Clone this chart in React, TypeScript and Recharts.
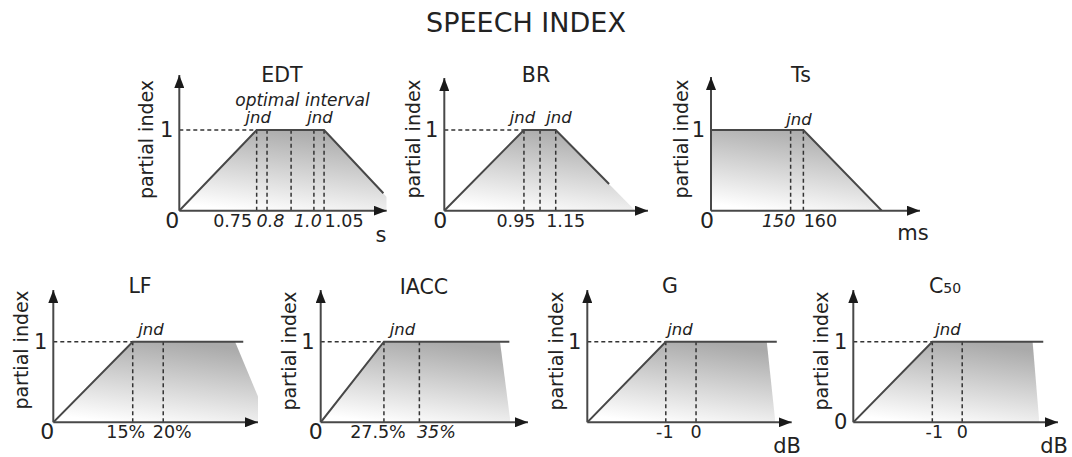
import React from 'react';
import { ComposedChart, Area, Line, XAxis, YAxis, ReferenceLine } from 'recharts';

const W = 1072;
const H = 457;
const FONT = '"DejaVu Sans", Verdana, sans-serif';
const INK = '#222222';
const AXIS = '#484848';
const YAX_W = 40;
const XAX_H = 20;

// ---------- data (x in schematic units: % of the drawn axis length) ----------
const EDT_X = [0, 37.3, 69.8, 98.4, 100];
const EDT_SHADE = [0, 1, 1, null, 0.17];
const EDT_EDGE = [0, 1, 1, 0.216, null];
const EDT_MARKS = [37.3, 42.3, 53.9, 64.9, 69.8];
const EDT_TICKS = [0, 37.3, 42.3, 53.9, 64.9, 69.8];
const EDT_TICK_LABELS = ['0', '0.75', '0.8', '', '1.0', '1.05'];

const BR_X = [0, 39.1, 54.7, 80.9, 93.8];
const BR_SHADE = [0, 1, 1, null, 0];
const BR_EDGE = [0, 1, 1, 0.33, null];
const BR_MARKS = [39.1, 47.0, 54.7];
const BR_TICKS = [0, 39.1, 47.0, 54.7];
const BR_TICK_LABELS = ['0', '0.95', '', '1.15'];

const TS_X = [0, 44.2, 81.7];
const TS_SHADE = [1, 1, 0];
const TS_EDGE = [1, 1, 0];
const TS_MARKS = [38.1, 44.2];
const TS_TICKS = [0, 38.1, 44.2];
const TS_TICK_LABELS = ['0', '150', '160'];

const LF_X = [0, 38.8, 88.8, 92.8, 100];
const LF_SHADE = [0, 1, 1, null, 0.32];
const LF_EDGE = [0, 1, null, 1, null];
const LF_MARKS = [38.8, 53.7];
const LF_TICKS = [0, 38.8, 53.7];
const LF_TICK_LABELS = ['0', '15%', '20%'];

const IACC_X = [0, 30.5, 86.5, 91.0, 91.3];
const IACC_SHADE = [0, 1, 1, null, 0.05];
const IACC_EDGE = [0, 1, null, 1, null];
const IACC_MARKS = [30.5, 47.6];
const IACC_TICKS = [0, 30.5, 47.6];
const IACC_TICK_LABELS = ['0', '27.5%', '35%'];

const G_X = [0, 38.4, 87.8, 91.8, 92.7];
const G_SHADE = [0, 1, 1, 0.05, null];
const G_EDGE = [0, 1, null, null, 1];
const G_MARKS = [38.4, 53.2];
const G_TICKS = [38.4, 53.2];
const G_TICK_LABELS = ['-1', '0'];

const C50_X = [0, 38.6, 87.6, 90.7, 92.8];
const C50_SHADE = [0, 1, 1, 0.05, null];
const C50_EDGE = [0, 1, null, null, 1];
const C50_MARKS = [38.6, 53.2];
const C50_TICKS = [38.6, 53.2];
const C50_TICK_LABELS = ['-1', '0'];

// ---------- layout / style (page pixels) ----------
type Txt = { x: number; y: number };
type Layout = {
  axisX: number; axisY: number; tipX: number; tipY: number; oneY: number;
  title: string; sub?: string; titlePos: Txt; ylab: Txt; jnd: Txt[];
  unit?: { text: string; x: number; y: number };
  extra?: { text: string; x: number; y: number };
  tickDx: number[]; tickItalic?: boolean[]; yTicks: number[];
};

const TOP = { axisY: 210.7, oneY: 130 };
const BOT = { axisY: 422.3, oneY: 341.7, tipY: 290 };

const panels: { x: number[]; shade: (number | null)[]; edge: (number | null)[]; marks: number[]; ticks: number[]; labels: string[]; hline: boolean; L: Layout }[] = [
  {
    x: EDT_X, shade: EDT_SHADE, edge: EDT_EDGE, marks: EDT_MARKS, ticks: EDT_TICKS, labels: EDT_TICK_LABELS, hline: true,
    L: {
      ...TOP, axisX: 179.3, tipX: 386.7, tipY: 75,
      title: 'EDT', titlePos: { x: 282, y: 81.7 }, ylab: { x: 145.5, y: 139.5 },
      jnd: [{ x: 258.3, y: 123.3 }, { x: 320, y: 123.3 }],
      unit: { text: 's', x: 381, y: 242 },
      extra: { text: 'optimal interval', x: 302.5, y: 105.5 },
      tickDx: [-7, -24, 3.5, 0, -6, 20], tickItalic: [false, false, true, false, true, false], yTicks: [1],
    },
  },
  {
    x: BR_X, shade: BR_SHADE, edge: BR_EDGE, marks: BR_MARKS, ticks: BR_TICKS, labels: BR_TICK_LABELS, hline: true,
    L: {
      ...TOP, axisX: 444.3, tipX: 648, tipY: 78,
      title: 'BR', titlePos: { x: 536, y: 81.7 }, ylab: { x: 412.5, y: 139 },
      jnd: [{ x: 522.5, y: 123.3 }, { x: 559, y: 123.3 }],
      tickDx: [-4, -8, 0, 10], yTicks: [1],
    },
  },
  {
    x: TS_X, shade: TS_SHADE, edge: TS_EDGE, marks: TS_MARKS, ticks: TS_TICKS, labels: TS_TICK_LABELS, hline: false,
    L: {
      ...TOP, axisX: 711, tipX: 920, tipY: 77,
      title: 'Ts', titlePos: { x: 801, y: 81.7 }, ylab: { x: 681, y: 139 },
      jnd: [{ x: 799, y: 125 }],
      unit: { text: 'ms', x: 913, y: 240 },
      tickDx: [-4, -12, 17], tickItalic: [false, true, false], yTicks: [1],
    },
  },
  {
    x: LF_X, shade: LF_SHADE, edge: LF_EDGE, marks: LF_MARKS, ticks: LF_TICKS, labels: LF_TICK_LABELS, hline: true,
    L: {
      ...BOT, axisX: 53.3, tipX: 258,
      title: 'LF', titlePos: { x: 140, y: 293 }, ylab: { x: 21, y: 350 },
      jnd: [{ x: 151, y: 335 }],
      tickDx: [-6, -7, 9], yTicks: [1],
    },
  },
  {
    x: IACC_X, shade: IACC_SHADE, edge: IACC_EDGE, marks: IACC_MARKS, ticks: IACC_TICKS, labels: IACC_TICK_LABELS, hline: true,
    L: {
      ...BOT, axisX: 320.7, tipX: 528,
      title: 'IACC', titlePos: { x: 424, y: 294 }, ylab: { x: 289, y: 351 },
      jnd: [{ x: 402.5, y: 335 }],
      tickDx: [-5, -6, 17], tickItalic: [false, false, true], yTicks: [1],
    },
  },
  {
    x: G_X, shade: G_SHADE, edge: G_EDGE, marks: G_MARKS, ticks: G_TICKS, labels: G_TICK_LABELS, hline: true,
    L: {
      ...BOT, axisX: 587.3, tipX: 791.7,
      title: 'G', titlePos: { x: 670, y: 293 }, ylab: { x: 556, y: 351 },
      jnd: [{ x: 680, y: 335 }],
      unit: { text: 'dB', x: 787, y: 453 },
      tickDx: [-1, 0], yTicks: [1],
    },
  },
  {
    x: C50_X, shade: C50_SHADE, edge: C50_EDGE, marks: C50_MARKS, ticks: C50_TICKS, labels: C50_TICK_LABELS, hline: true,
    L: {
      ...BOT, axisX: 853.3, tipX: 1058,
      title: 'C', sub: '50', titlePos: { x: 945, y: 293 }, ylab: { x: 821, y: 351 },
      jnd: [{ x: 948, y: 335 }],
      unit: { text: 'dB', x: 1054, y: 453 },
      tickDx: [2, 0], yTicks: [0, 1],
    },
  },
];

function Panel({ p, idx }: { p: typeof panels[number]; idx: number }) {
  const L = p.L;
  const data = p.x.map((x, i) => ({
    x,
    shade: p.shade[i] === null ? undefined : p.shade[i],
    edge: p.edge[i] === null ? undefined : p.edge[i],
  }));
  const yMax = (L.axisY - L.tipY) / (L.axisY - L.oneY);
  const margin = {
    top: L.tipY,
    left: L.axisX - YAX_W,
    right: W - L.tipX,
    bottom: H - L.axisY - XAX_H,
  };
  const rise = p.marks[0];

  const xTick = (props: any) => {
    const v = props.payload.value;
    const i = p.ticks.indexOf(v);
    const label = p.labels[i];
    if (!label) return <g />;
    const big = v === 0 && label === '0';
    return (
      <text
        x={props.x + (L.tickDx[i] || 0)}
        y={L.axisY + (big ? 17 : 16)}
        textAnchor="middle"
        fontFamily={FONT}
        fontSize={big ? 22 : 17.5}
        fontStyle={L.tickItalic && L.tickItalic[i] ? 'italic' : 'normal'}
        fill={INK}
      >
        {label}
      </text>
    );
  };

  const yTick = (props: any) => (
    <text
      x={L.axisX - 6}
      y={props.y}
      textAnchor="end"
      dominantBaseline="central"
      fontFamily={FONT}
      fontSize={21}
      fill={INK}
    >
      {props.payload.value}
    </text>
  );

  return (
    <div style={{ position: 'absolute', left: 0, top: 0 }}>
      <ComposedChart width={W} height={H} data={data} margin={margin}>
        <defs>
          <linearGradient id={`shade${idx}`} x1="0.3" y1="1" x2="0.6" y2="0">
            <stop offset="0%" stopColor="#ffffff" />
            <stop offset="100%" stopColor="#aaaaaa" />
          </linearGradient>
          <marker
            id={`arrow${idx}`}
            viewBox="0 0 13 10"
            refX="13"
            refY="5"
            markerWidth="13"
            markerHeight="10"
            markerUnits="userSpaceOnUse"
            orient="auto-start-reverse"
          >
            <path d="M0,0 L13,5 L0,10 z" fill="#1a1a1a" />
          </marker>
        </defs>
        <XAxis
          type="number"
          dataKey="x"
          domain={[0, 100]}
          allowDataOverflow
          ticks={p.ticks}
          interval={0}
          tick={xTick}
          tickLine={false}
          height={XAX_H}
          axisLine={{ stroke: AXIS, strokeWidth: 2, markerEnd: `url(#arrow${idx})` } as any}
        />
        <YAxis
          type="number"
          domain={[0, yMax]}
          allowDataOverflow
          ticks={L.yTicks}
          interval={0}
          tick={yTick}
          tickLine={false}
          width={YAX_W}
          axisLine={{ stroke: AXIS, strokeWidth: 2, markerStart: `url(#arrow${idx})` } as any}
        />
        <Area
          dataKey="shade"
          type="linear"
          stroke="none"
          fill={`url(#shade${idx})`}
          fillOpacity={1}
          connectNulls
          baseValue={0}
          isAnimationActive={false}
        />
        {p.hline && (
          <ReferenceLine
            segment={[{ x: 0, y: 1 }, { x: rise, y: 1 }]}
            stroke="#333"
            strokeWidth={1.5}
            strokeDasharray="4 3"
          />
        )}
        {p.marks.map((m) => (
          <ReferenceLine
            key={m}
            segment={[{ x: m, y: 0 }, { x: m, y: 1 }]}
            stroke="#333"
            strokeWidth={1.5}
            strokeDasharray="4 3"
          />
        ))}
        <Line
          dataKey="edge"
          type="linear"
          stroke={AXIS}
          strokeWidth={2}
          dot={false}
          activeDot={false}
          connectNulls
          isAnimationActive={false}
        />
        <text x={L.titlePos.x} y={L.titlePos.y} textAnchor="middle" fontFamily={FONT} fontSize={20.5} fill={INK}>
          {L.title}
          {L.sub && <tspan fontSize={14}>{L.sub}</tspan>}
        </text>
        <text
          x={L.ylab.x}
          y={L.ylab.y}
          transform={`rotate(-90 ${L.ylab.x} ${L.ylab.y})`}
          textAnchor="middle"
          dominantBaseline="central"
          fontFamily={FONT}
          fontSize={19}
          fill={INK}
        >
          partial index
        </text>
        {L.jnd.map((j, k) => (
          <text key={k} x={j.x} y={j.y} textAnchor="middle" fontFamily={FONT} fontSize={16.5} fontStyle="italic" fill={INK}>
            jnd
          </text>
        ))}
        {L.extra && (
          <text x={L.extra.x} y={L.extra.y} textAnchor="middle" fontFamily={FONT} fontSize={17} fontStyle="italic" fill={INK}>
            {L.extra.text}
          </text>
        )}
        {L.unit && (
          <text x={L.unit.x} y={L.unit.y} textAnchor="middle" fontFamily={FONT} fontSize={21} fill={INK}>
            {L.unit.text}
          </text>
        )}
        {idx === 0 && (
          <text x={526} y={31.7} textAnchor="middle" fontFamily={FONT} fontSize={27} fill={INK}>
            SPEECH INDEX
          </text>
        )}
      </ComposedChart>
    </div>
  );
}

export default function App() {
  return (
    <div style={{ position: 'absolute', left: 0, top: 0, width: W, height: H, background: '#fff', overflow: 'hidden' }}>
      {panels.map((p, i) => (
        <Panel key={i} p={p} idx={i} />
      ))}
    </div>
  );
}
